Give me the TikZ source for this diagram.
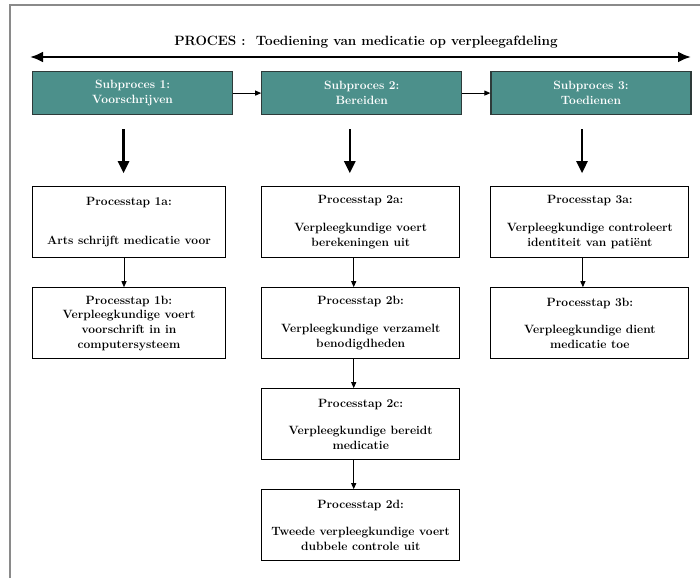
\documentclass[tikz,border=0pt]{standalone}
\usepackage{tikz}
\usetikzlibrary{arrows.meta,positioning}
\definecolor{subFill}{HTML}{4C908B}
\definecolor{subLine}{HTML}{2E3B3A}
\definecolor{frameGray}{HTML}{8A8A8A}

\begin{document}
\begin{tikzpicture}[
  x=1pt, y=-1pt,
  font=\fontsize{12}{14.7}\selectfont\bfseries,
  >=Latex,
  node distance=28pt,
  subproc/.style={draw=subLine, line width=1.2pt, fill=subFill, text=white,
    align=center, minimum width=200pt, minimum height=43pt, inner sep=0pt},
  stepbox/.style={draw=black, line width=1pt, fill=white, align=center,
    minimum width=198pt, minimum height=71pt, inner sep=0pt},
  bigflow/.style={-{Triangle[length=12pt,width=11pt]}, line width=2.5pt},
  flow/.style={-{Triangle[length=6pt,width=5pt]}, line width=0.9pt},
  procflow/.style={{Latex[length=13pt,width=11pt]}-{Latex[length=13pt,width=11pt]}, line width=2.5pt}
]
  \useasboundingbox (0,0) rectangle (700,578);
  \draw[frameGray, line width=2pt] (10,578) -- (10,5) -- (700,5);

  % proces
  \node (title) at (366,42) {\fontsize{13.5}{15}\selectfont PROCES :\ \ Toediening van medicatie op verpleegafdeling};
  \coordinate (procL) at (30,57);
  \coordinate (procR) at (691,57);
  \draw[procflow] (procL) -- (procR);

  % subprocessen
  \node[subproc, anchor=north west] (sub1) at (32,71) {Subproces 1:\\Voorschrijven};
  \node[subproc, right=of sub1] (sub2) {Subproces 2:\\Bereiden};
  \node[subproc, right=of sub2] (sub3) {Subproces 3:\\Toedienen};
  \draw[flow] (sub1) -- (sub2);
  \draw[flow] (sub2) -- (sub3);

  % processtappen
  \node[stepbox, minimum width=193pt, below=71pt of sub1.south west, anchor=north west] (s1a)
    {Processtap 1a:\\[25pt]Arts schrijft medicatie voor};
  \node[stepbox, minimum width=193pt, below=29pt of s1a] (s1b)
    {Processtap 1b:\\Verpleegkundige voert\\voorschrift in in\\computersysteem};

  \node[stepbox, below=71pt of sub2.south west, anchor=north west] (s2a)
    {Processtap 2a:\\[13pt]Verpleegkundige voert\\berekeningen uit};
  \node[stepbox, below=29pt of s2a] (s2b)
    {Processtap 2b:\\[13pt]Verpleegkundige verzamelt\\benodigdheden};
  \node[stepbox, below=29pt of s2b] (s2c)
    {Processtap 2c:\\[13pt]Verpleegkundige bereidt\\medicatie};
  \node[stepbox, below=29pt of s2c] (s2d)
    {Processtap 2d:\\[13pt]Tweede verpleegkundige voert\\dubbele controle uit};

  \node[stepbox, below=71pt of sub3.south west, anchor=north west] (s3a)
    {Processtap 3a:\\[13pt]Verpleegkundige controleert\\identiteit van patiënt};
  \node[stepbox, below=29pt of s3a] (s3b)
    {Processtap 3b:\\[13pt]Verpleegkundige dient\\medicatie toe};

  % dikke pijlen
  \draw[bigflow, shorten <=14pt, shorten >=13pt] ([xshift=-9pt]sub1.south) -- ([xshift=-9pt]sub1.south |- s1a.north);
  \draw[bigflow, shorten <=14pt, shorten >=13pt] ([xshift=-12pt]sub2.south) -- ([xshift=-12pt]sub2.south |- s2a.north);
  \draw[bigflow, shorten <=14pt, shorten >=13pt] ([xshift=-9pt]sub3.south) -- ([xshift=-9pt]sub3.south |- s3a.north);

  \draw[flow] ([xshift=-5pt]s1a.south) -- ([xshift=-5pt]s1b.north);
  \draw[flow] ([xshift=-7pt]s2a.south) -- ([xshift=-7pt]s2b.north);
  \draw[flow] ([xshift=-7pt]s2b.south) -- ([xshift=-7pt]s2c.north);
  \draw[flow] ([xshift=-7pt]s2c.south) -- ([xshift=-7pt]s2d.north);
  \draw[flow] ([xshift=-7pt]s3a.south) -- ([xshift=-7pt]s3b.north);
\end{tikzpicture}
\end{document}
